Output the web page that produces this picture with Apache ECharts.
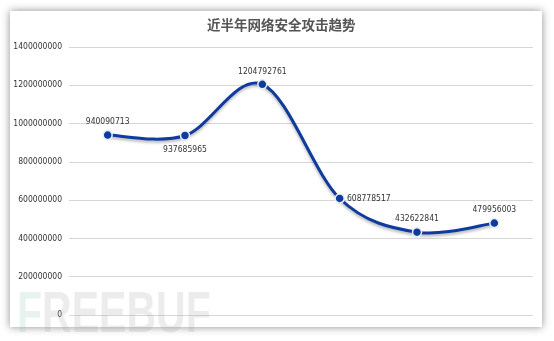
<!DOCTYPE html>
<html>
<head>
<meta charset="utf-8">
<script src="https://cdn.jsdelivr.net/npm/echarts@6/dist/echarts.min.js"></script>
<style>
html,body{margin:0;padding:0;background:#fff;}
#chart{width:554px;height:341px;}
</style>
</head>
<body>
<div id="chart"></div>
<script>
var categories = ['1', '2', '3', '4', '5', '6'];
var attacks = [940090713, 937685965, 1204792761, 608778517, 432622841, 479956003];
var labelPositions = ['top', 'bottom', 'top', 'right', 'top', 'top'];
var labelDistances = [3, 5, 3, 2, 4, 4];
var titleText = '近半年网络安全攻击趋势';

var numFont = "'DejaVu Sans Condensed', 'Liberation Sans Narrow', sans-serif";
var lineColor = '#0f3b9e';

var chart = echarts.init(document.getElementById('chart'), null, {renderer: 'canvas'});
var seriesData = attacks.map(function (v, i) {
  return {
    value: v,
    label: {position: labelPositions[i], distance: labelDistances[i]}
  };
});
var segData = attacks.slice(0, attacks.length - 1).map(function (v, i) { return [i, v]; });

function renderSegment(params, api) {
  var i = params.dataIndex;
  var n = attacks.length;
  function pt(k) {
    k = Math.max(0, Math.min(n - 1, k));
    return api.coord([k, attacks[k]]);
  }
  var p0 = pt(i - 1), p1 = pt(i), p2 = pt(i + 1), p3 = pt(i + 2);
  return {
    type: 'bezierCurve',
    shape: {
      x1: p1[0], y1: p1[1], x2: p2[0], y2: p2[1],
      cpx1: p1[0] + (p2[0] - p0[0]) / 6, cpy1: p1[1] + (p2[1] - p0[1]) / 6,
      cpx2: p2[0] - (p3[0] - p1[0]) / 6, cpy2: p2[1] - (p3[1] - p1[1]) / 6
    },
    style: {
      fill: null, stroke: lineColor, lineWidth: 3, lineCap: 'round',
      shadowColor: 'rgba(0,0,0,0.3)', shadowBlur: 3, shadowOffsetY: 2
    }
  };
}

chart.setOption({
  backgroundColor: '#fff',
  animation: false,
  graphic: [
    {
      type: 'rect', z: -10, silent: true,
      shape: {x: 10, y: 11, width: 532, height: 316},
      style: {fill: '#fff', shadowBlur: 8, shadowColor: 'rgba(0,0,0,0.45)', shadowOffsetX: 0, shadowOffsetY: 0}
    },
    {
      type: 'text', z: 100, silent: true, left: 17, top: 288, scaleX: 0.72,
      style: {text: 'F', font: "bold 57px 'Liberation Sans', sans-serif", fill: 'rgba(150,200,175,0.22)'}
    },
    {
      type: 'text', z: 100, silent: true, left: 42, top: 288, scaleX: 0.72,
      style: {text: 'REEBUF', font: "bold 57px 'Liberation Sans', sans-serif", fill: 'rgba(170,170,170,0.22)'}
    }
  ],
  title: {
    text: titleText,
    left: 202, top: 13,
    textStyle: {fontSize: 13.5, fontWeight: 'bold', color: '#555', fontFamily: "'Noto Sans CJK SC', sans-serif"}
  },
  grid: {left: 69, right: 21, top: 47, bottom: 26, containLabel: false, outerBoundsMode: 'none'},
  xAxis: {
    type: 'category',
    data: categories,
    boundaryGap: true,
    axisLine: {show: false},
    axisTick: {show: false},
    axisLabel: {show: false},
    splitLine: {show: false}
  },
  yAxis: {
    type: 'value',
    min: 0, max: 1400000000, interval: 200000000,
    axisLine: {show: false},
    axisTick: {show: false},
    axisLabel: {color: '#333', fontSize: 8.5, fontFamily: numFont, margin: 7, formatter: function (v) { return String(v); }},
    splitLine: {lineStyle: {color: '#d6d6d6', width: 1}}
  },
  series: [
    {
      type: 'custom',
      data: segData,
      renderItem: renderSegment,
      z: 2,
      silent: true
    },
    {
      type: 'line',
      data: seriesData,
      z: 3,
      symbol: 'circle',
      symbolSize: 9,
      itemStyle: {color: lineColor, borderColor: '#e8ecf5', borderWidth: 1.5},
      lineStyle: {width: 0, opacity: 0},
      label: {show: true, color: '#333', fontSize: 8.5, fontFamily: numFont, formatter: function (p) { return String(p.value); }}
    }
  ]
});
</script>
</body>
</html>
